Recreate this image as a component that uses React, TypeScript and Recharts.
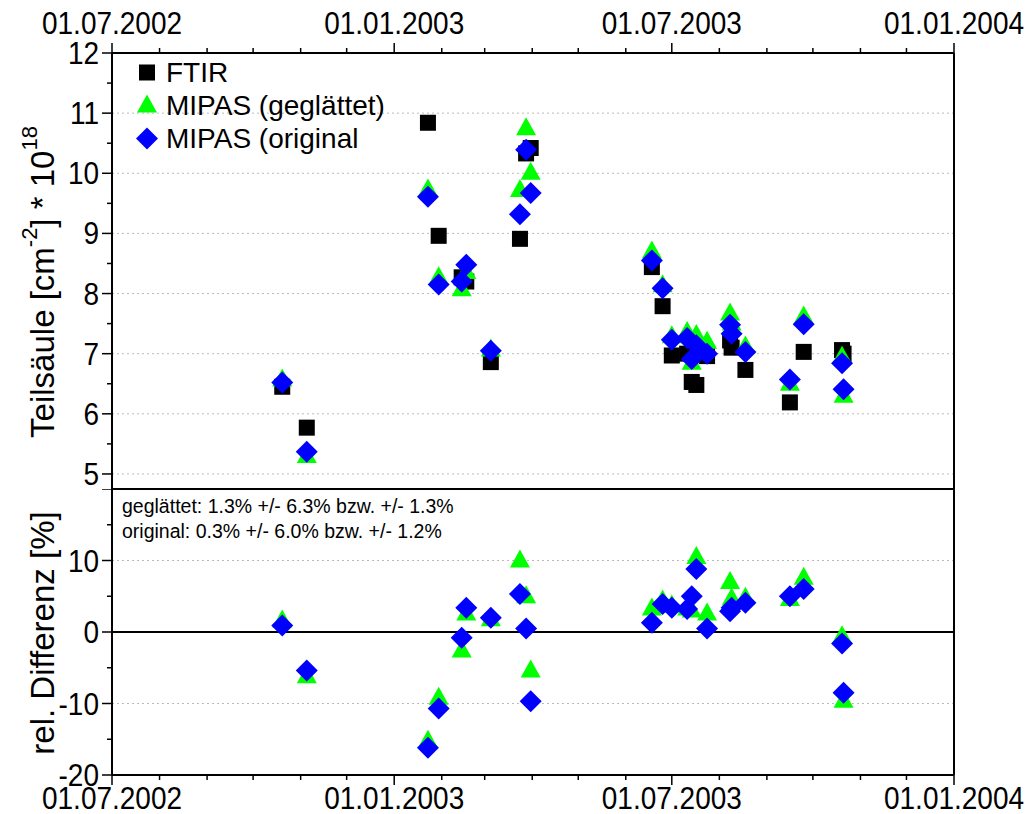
import React from "react";
import { ScatterChart, Scatter, XAxis, YAxis, ReferenceLine, Legend } from "recharts";

// measurement dates (FTIR / MIPAS coincidences)
const dates = [
  "2002-10-20", "2002-11-05", "2003-01-23", "2003-01-30", "2003-02-14", "2003-02-17",
  "2003-03-05", "2003-03-24", "2003-03-28", "2003-03-31", "2003-06-18", "2003-06-25",
  "2003-07-01", "2003-07-11", "2003-07-14", "2003-07-17", "2003-07-24", "2003-08-08",
  "2003-08-09", "2003-08-18", "2003-09-16", "2003-09-25", "2003-10-20", "2003-10-21",
];
// Teilsäule * 1e18
const ftir = [6.45, 5.77, 10.84, 8.96, 8.27, 8.2, 6.86, 8.91, 10.33, 10.42, 8.44, 7.79, 6.97, 7.0, 6.53, 6.48, 6.96, 7.22, 7.1, 6.73, 6.19, 7.03, 7.06, 7.0];
const mipasSmooth = [6.57, 5.3, 9.73, 8.27, 8.07, 8.36, 7.07, 9.72, 10.75, 10.01, 8.7, 8.14, 7.29, 7.36, 6.85, 7.31, 7.2, 7.67, 7.5, 7.12, 6.5, 7.62, 6.95, 6.3];
const mipasOrig = [6.52, 5.37, 9.61, 8.15, 8.2, 8.48, 7.05, 9.32, 10.39, 9.67, 8.55, 8.09, 7.23, 7.26, 6.91, 7.14, 7.0, 7.48, 7.33, 7.03, 6.57, 7.49, 6.84, 6.41];
// rel. Differenz [%]
const diffSmooth = [1.6, -6.2, -15.2, -9.2, -2.6, 2.6, 1.8, 10.0, 5.0, -5.4, 3.3, 4.4, 3.7, 3.3, 3.0, 10.5, 2.6, 7.0, 4.7, 4.8, 4.6, 7.6, -0.6, -9.6];
const diffOrig = [0.9, -5.4, -16.2, -10.7, -0.8, 3.4, 2.0, 5.3, 0.5, -9.7, 1.3, 3.9, 3.4, 3.2, 5.0, 8.8, 0.5, 2.9, 3.4, 4.1, 5.0, 6.0, -1.6, -8.5];

const monthTicks = [
  "2002-07-01", "2002-08-01", "2002-09-01", "2002-10-01", "2002-11-01", "2002-12-01",
  "2003-01-01", "2003-02-01", "2003-03-01", "2003-04-01", "2003-05-01", "2003-06-01",
  "2003-07-01", "2003-08-01", "2003-09-01", "2003-10-01", "2003-11-01", "2003-12-01",
  "2004-01-01",
];
const majorTicks = ["2002-07-01", "2003-01-01", "2003-07-01", "2004-01-01"];

const topTicks = [5, 5.5, 6, 6.5, 7, 7.5, 8, 8.5, 9, 9.5, 10, 10.5, 11, 11.5, 12];
const topLabels = [5, 6, 7, 8, 9, 10, 11, 12];
const topGrid = [5, 6, 7, 8, 9, 10, 11];
const botTicks = [-20, -15, -10, -5, 0, 5, 10, 15, 20];
const botLabels = [-20, -10, 0, 10];
const botMajors = [-20, -10, 0, 10, 20];
const botGrid = [-10, 10];

const statLines = [
  "geglättet: 1.3% +/- 6.3% bzw. +/- 1.3%",
  "original: 0.3% +/- 6.0% bzw. +/- 1.2%",
];

const toT = (s: string) => new Date(s + "T00:00:00Z").getTime();
const fmtDate = (t: number) => {
  const d = new Date(t);
  const p = (n: number) => String(n).padStart(2, "0");
  return `${p(d.getUTCDate())}.${p(d.getUTCMonth() + 1)}.${d.getUTCFullYear()}`;
};

const xTicks = monthTicks.map(toT);
const xMajor = new Set(majorTicks.map(toT));
const xDomain = [toT("2002-07-01"), toT("2004-01-01")];

const series = (vals: number[]) => dates.map((d, i) => ({ t: toT(d), v: vals[i] }));
const ftirData = series(ftir);
const smoothData = series(mipasSmooth);
const origData = series(mipasOrig);
const diffSmoothData = series(diffSmooth);
const diffOrigData = series(diffOrig);

const FONT = "'Liberation Sans', Arial, sans-serif";
const TICK_FS = 32;
const SX = 0.875;
const AXIS = { stroke: "#000", strokeWidth: 2 };

const Square = ({ cx, cy }: any) => <rect x={cx - 8} y={cy - 8} width={16} height={16} fill="#000" />;
const Triangle = ({ cx, cy }: any) => (
  <polygon points={`${cx},${cy - 11} ${cx - 10},${cy + 7} ${cx + 10},${cy + 7}`} fill="#00ff00" />
);
const Diamond = ({ cx, cy }: any) => (
  <polygon points={`${cx},${cy - 11} ${cx + 11},${cy} ${cx},${cy + 11} ${cx - 11},${cy}`} fill="#0000ff" />
);

const Txt = ({ x, y, anchor, children }: any) => (
  <text transform={`translate(${x},${y}) scale(${SX},1)`} textAnchor={anchor} fontSize={TICK_FS} fontFamily={FONT} fill="#000">
    {children}
  </text>
);

const XTick = ({ x, y, payload, dir, label }: any) => {
  const major = xMajor.has(payload.value);
  const len = major ? 10 : 5;
  return (
    <g>
      <line x1={x} y1={y} x2={x} y2={y + dir * len} stroke="#000" strokeWidth={1.5} />
      {label && major && (
        <Txt x={x} y={dir < 0 ? y - 19 : y + 34} anchor="middle">{fmtDate(payload.value)}</Txt>
      )}
    </g>
  );
};

const YTick = ({ x, y, payload, dir, labels, majors }: any) => {
  const major = majors.includes(payload.value);
  const len = major ? 10 : 5;
  return (
    <g>
      <line x1={x} y1={y} x2={x + dir * len} y2={y} stroke="#000" strokeWidth={1.5} />
      {labels && labels.includes(payload.value) && (
        <Txt x={x - 13} y={y + 11} anchor="end">{payload.value}</Txt>
      )}
    </g>
  );
};

const YLabel = ({ viewBox, shift = 0, children }: any) => {
  const cx = 42;
  const cy = viewBox.y + viewBox.height / 2 + shift;
  return (
    <text x={cx} y={cy} transform={`rotate(-90 ${cx} ${cy})`} textAnchor="middle" dominantBaseline="central" fontSize={33} fontFamily={FONT} fill="#000">
      {children}
    </text>
  );
};

const legendItems = [
  { name: "FTIR", Shape: Square },
  { name: "MIPAS (geglättet)", Shape: Triangle },
  { name: "MIPAS (original", Shape: Diamond },
];

const LegendBox = () => (
  <div style={{ fontFamily: FONT, fontSize: 28, color: "#000" }}>
    {legendItems.map(({ name, Shape }) => (
      <div key={name} style={{ display: "flex", alignItems: "center", height: 33 }}>
        <svg width={24} height={33}>
          <Shape cx={12} cy={16.5} />
        </svg>
        <span style={{ marginLeft: 7 }}>{name}</span>
      </div>
    ))}
  </div>
);

export default function App() {
  return (
    <div style={{ position: "absolute", left: 0, top: 0, width: 1029, height: 814, background: "#fff", fontFamily: FONT }}>
      <div style={{ position: "absolute", left: 0, top: 0 }}>
        <ScatterChart width={1029} height={490} margin={{ top: 0, right: 0, bottom: 0, left: 0 }}>
          <XAxis xAxisId="top" orientation="top" type="number" dataKey="t" domain={xDomain} ticks={xTicks} interval={0}
            height={53} tickSize={0} tickMargin={0} tickLine={false} axisLine={AXIS}
            tick={(p: any) => <XTick {...p} dir={-1} label />} />
          <XAxis xAxisId="mid" orientation="bottom" type="number" dataKey="t" domain={xDomain} ticks={xTicks} interval={0}
            height={1} tickSize={0} tickMargin={0} tickLine={false} axisLine={AXIS}
            tick={(p: any) => <XTick {...p} dir={-1} />} />
          <YAxis yAxisId="left" type="number" dataKey="v" domain={[4.75, 12]} ticks={topTicks} interval={0}
            width={112} tickSize={0} tickMargin={0} tickLine={false} axisLine={AXIS}
            tick={(p: any) => <YTick {...p} dir={-1} labels={topLabels} majors={topLabels} />}
            label={<YLabel shift={11}><tspan>Teilsäule [cm</tspan><tspan dy={-13} fontSize={22}>-2</tspan><tspan dy={13}>] * 10</tspan><tspan dy={-13} fontSize={22}>18</tspan></YLabel>} />
          <YAxis yAxisId="right" orientation="right" type="number" dataKey="v" domain={[4.75, 12]} ticks={topTicks} interval={0}
            width={75} tickSize={0} tickMargin={0} tickLine={false} axisLine={AXIS}
            tick={(p: any) => <YTick {...p} dir={-1} majors={topLabels} />} />
          {topGrid.map((g) => (
            <ReferenceLine key={g} y={g} xAxisId="top" yAxisId="left" stroke="#bbbbbb" strokeDasharray="2 3" />
          ))}
          <Legend layout="vertical" align="center" verticalAlign="middle" content={<LegendBox />}
            wrapperStyle={{ left: 135, top: 56, width: "auto", height: "auto" }} />
          <Scatter name="FTIR" data={ftirData} xAxisId="top" yAxisId="left" shape={Square} isAnimationActive={false} />
          <Scatter name="MIPAS (geglättet)" data={smoothData} xAxisId="top" yAxisId="left" shape={Triangle} isAnimationActive={false} />
          <Scatter name="MIPAS (original" data={origData} xAxisId="top" yAxisId="left" shape={Diamond} isAnimationActive={false} />
        </ScatterChart>
      </div>
      <div style={{ position: "absolute", left: 0, top: 489 }}>
        <ScatterChart width={1029} height={325} margin={{ top: 0, right: 0, bottom: 0, left: 0 }}>
          <XAxis xAxisId="bottom" orientation="bottom" type="number" dataKey="t" domain={xDomain} ticks={xTicks} interval={0}
            height={39} tickSize={0} tickMargin={0} tickLine={false} axisLine={AXIS}
            tick={(p: any) => <XTick {...p} dir={1} label />} />
          <YAxis yAxisId="left" type="number" dataKey="v" domain={[-20, 20]} ticks={botTicks} interval={0}
            width={112} tickSize={0} tickMargin={0} tickLine={false} axisLine={AXIS}
            tick={(p: any) => <YTick {...p} dir={-1} labels={botLabels} majors={botMajors} />}
            label={<YLabel shift={1}>rel. Differenz [%]</YLabel>} />
          <YAxis yAxisId="right" orientation="right" type="number" dataKey="v" domain={[-20, 20]} ticks={botTicks} interval={0}
            width={75} tickSize={0} tickMargin={0} tickLine={false} axisLine={AXIS}
            tick={(p: any) => <YTick {...p} dir={-1} majors={botMajors} />} />
          {botGrid.map((g) => (
            <ReferenceLine key={g} y={g} xAxisId="bottom" yAxisId="left" stroke="#bbbbbb" strokeDasharray="2 3" />
          ))}
          <ReferenceLine y={0} xAxisId="bottom" yAxisId="left" stroke="#000" strokeWidth={2} />
          <Scatter name="MIPAS (geglättet)" data={diffSmoothData} xAxisId="bottom" yAxisId="left" shape={Triangle} isAnimationActive={false} />
          <Scatter name="MIPAS (original" data={diffOrigData} xAxisId="bottom" yAxisId="left" shape={Diamond} isAnimationActive={false} />
        </ScatterChart>
      </div>
      <div style={{ position: "absolute", left: 122, top: 494, fontSize: 19.5, lineHeight: "25px", color: "#000", whiteSpace: "nowrap" }}>
        {statLines.map((l) => (
          <div key={l}>{l}</div>
        ))}
      </div>
    </div>
  );
}
